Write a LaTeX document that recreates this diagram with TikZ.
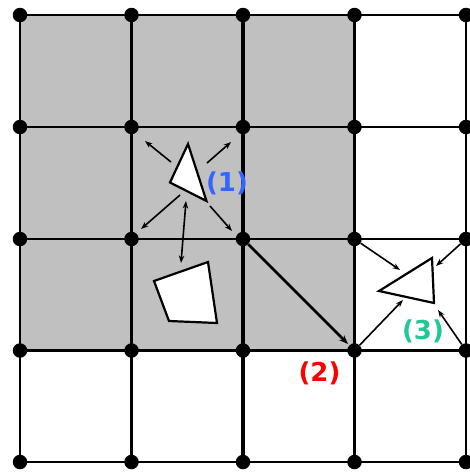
\documentclass[tikz,border=0pt]{standalone}
\usetikzlibrary{arrows.meta}
\usepackage{fontspec}
\newfontfamily\lblfont{DejaVu Sans}
\definecolor{cellgray}{HTML}{C0C0C0}
\definecolor{lblblue}{HTML}{3366FF}
\definecolor{lblred}{HTML}{FF0000}
\definecolor{lblteal}{HTML}{20C896}
\begin{document}
\begin{tikzpicture}[x=1pt,y=-1pt,
  dot/.style={circle,fill=black,inner sep=0pt,minimum size=14.5pt},
  hline/.style={line width=2.9pt},
  vline/.style={line width=2.9pt},
  vthick/.style={line width=3.8pt},
  arr/.style={line width=1.6pt,-{Stealth[length=7.5pt,width=5.5pt]}},
  darr/.style={line width=1.6pt,{Stealth[length=7.5pt,width=5.5pt]}-{Stealth[length=7.5pt,width=5.5pt]}},
  diag/.style={line width=2.8pt,-{Stealth[length=9pt,width=7pt]}},
  polyshape/.style={draw=black,fill=white,line width=2.2pt,line join=miter},
  lbl/.style={font=\lblfont\bfseries\fontsize{26}{26}\selectfont,inner sep=0pt}]
\useasboundingbox (0,0) rectangle (470,474);
\fill[white] (0,0) rectangle (470,474);
\fill[cellgray] (20,15) rectangle (354.5,350.5);
% grid lines
\foreach \y in {15,127,239,350.5,462} \draw[hline] (20,\y) -- (466,\y);
\draw[vline] (20,15) -- (20,462);
\draw[vline] (466,15) -- (466,462);
\foreach \x in {131.5,243,354.5} \draw[vthick] (\x,15) -- (\x,462);
% grid dots
\foreach \x/\i in {20/0,131.5/1,243/2,354.5/3,466/4}
  \foreach \y/\j in {15/0,127/1,239/2,350.5/3,462/4}
    \node[dot] (g\i\j) at (\x,\y) {};
% shapes
\draw[polyshape] (188,144) -- (170,182.5) -- (206.5,201) -- cycle;
\draw[polyshape] (154,281) -- (208,262) -- (217,323) -- (169,321) -- cycle;
\draw[polyshape] (379,291) -- (432,258) -- (434,303) -- cycle;
% arrow end coordinates for (1)
\coordinate (a1s) at (171,162);   \coordinate (a1e) at (145,141);
\coordinate (a2s) at (207,163);   \coordinate (a2e) at (231,142);
\coordinate (a3s) at (180,195);   \coordinate (a3e) at (141,229);
\coordinate (a4s) at (210,206);   \coordinate (a4e) at (232,231);
\coordinate (a5s) at (186,201);   \coordinate (a5e) at (181,263);
\draw[arr] (a1s) -- (a1e);
\draw[arr] (a2s) -- (a2e);
\draw[arr] (a3s) -- (a3e);
\draw[arr] (a4s) -- (a4e);
\draw[darr] (a5s) -- (a5e);
% diagonal (2)
\coordinate (d2e) at (348,344);
\draw[diag] (g22) -- (d2e);
% arrows for (3)
\coordinate (b1e) at (400,270);
\coordinate (b2e) at (436,266);
\coordinate (b3e) at (403,300);
\coordinate (b4e) at (438,310);
\draw[arr] (g32) -- (b1e);
\draw[arr] (g42) -- (b2e);
\draw[arr] (g33) -- (b3e);
\draw[arr] (g43) -- (b4e);
% labels
\node[lbl,text=lblblue] (l1) at (227,183) {(1)};
\node[lbl,text=lblred] (l2) at (319.5,373) {(2)};
\node[lbl,text=lblteal] (l3) at (423,331) {(3)};
\end{tikzpicture}
\end{document}
